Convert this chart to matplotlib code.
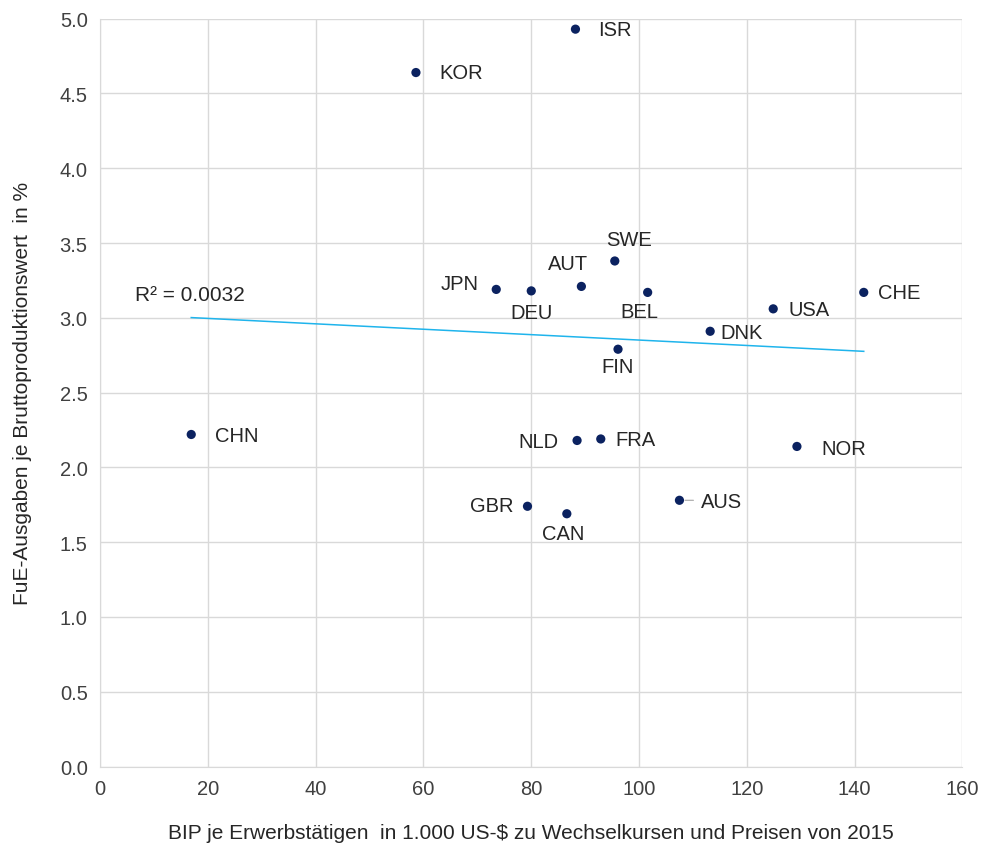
import matplotlib.pyplot as plt
import numpy as np

plt.rcParams['font.family'] = ['Liberation Sans', 'DejaVu Sans']

# data
countries = ['ISR', 'KOR', 'SWE', 'AUT', 'JPN', 'DEU', 'BEL', 'CHE', 'USA',
             'DNK', 'FIN', 'CHN', 'NLD', 'FRA', 'NOR', 'GBR', 'CAN', 'AUS']
bip = [88.2, 58.6, 95.5, 89.3, 73.5, 80.0, 101.6, 141.7, 124.9,
       113.2, 96.1, 16.9, 88.5, 92.9, 129.3, 79.3, 86.6, 107.5]
fue = [4.93, 4.64, 3.38, 3.21, 3.19, 3.18, 3.17, 3.17, 3.06,
       2.91, 2.79, 2.22, 2.18, 2.19, 2.14, 1.74, 1.69, 1.78]

# label offsets in pixels (dx, dy, ha)
offsets = {
    'ISR': (23, 0, 'left'), 'KOR': (23, 0, 'left'), 'SWE': (14, 21, 'center'),
    'AUT': (-13, 23, 'center'), 'JPN': (-18, 6, 'right'), 'DEU': (0, -22, 'center'),
    'BEL': (-8, -19, 'center'), 'CHE': (14, 0, 'left'), 'USA': (15, -1, 'left'),
    'DNK': (10, -1, 'left'), 'FIN': (0, -17, 'center'), 'CHN': (24, -1, 'left'),
    'NLD': (-19, -1, 'right'), 'FRA': (15, -1, 'left'), 'NOR': (24, -2, 'left'),
    'GBR': (-14, 1, 'right'), 'CAN': (-4, -20, 'center'), 'AUS': (22, -1, 'left'),
}

fig = plt.figure(figsize=(9.82, 8.45), dpi=100)
ax = fig.add_axes([0.102, 0.0917, 0.878, 0.885])

x = np.array(bip)
y = np.array(fue)

# linear trend
slope, icpt = np.polyfit(x, y, 1)
xt = np.array([x.min(), x.max()])
ax.plot(xt, slope * xt + icpt, color='#1fb4ec', lw=1.1, zorder=2)

px = 0.72  # pixels -> points at 100 dpi
ax.annotate('R² = 0.0032', (x.min(), slope * x.min() + icpt), xytext=(-56 * px, 23 * px),
            textcoords='offset points', va='center', fontsize=15, color='#262626')

ax.scatter(x, y, s=44, color='#0b2260', zorder=3, edgecolors='none')

for c, xi, yi in zip(countries, x, y):
    dx, dy, ha = offsets[c]
    ax.annotate(c, (xi, yi), xytext=(dx * px, dy * px), textcoords='offset points',
                ha=ha, va='center', fontsize=14.5, color='#262626')
    if c == 'AUS':
        ax.annotate('', (xi, yi), xytext=(14 * px, 0), textcoords='offset points',
                    arrowprops=dict(arrowstyle='-', color='#a6a6a6', lw=0.8,
                                    shrinkA=0, shrinkB=4))

ax.set_xlim(0, 160)
ax.set_ylim(0, 5)
ax.set_xticks(np.arange(0, 161, 20))
ax.set_yticks(np.arange(0, 5.01, 0.5))
ax.set_yticklabels([f'{v:.1f}' for v in np.arange(0, 5.01, 0.5)])
ax.grid(True, color='#d9d9d9', lw=1)
ax.set_axisbelow(True)
for s in ['top', 'right']:
    ax.spines[s].set_visible(False)
for s in ['left', 'bottom']:
    ax.spines[s].set_color('#d9d9d9')
ax.tick_params(length=0, labelsize=14.5, colors='#404040', pad=9)

ax.set_xlabel('BIP je Erwerbstätigen  in 1.000 US-$ zu Wechselkursen und Preisen von 2015',
              fontsize=15, color='#262626', labelpad=18)
ax.set_ylabel('FuE-Ausgaben je Bruttoproduktionswert  in %', fontsize=15,
              color='#262626', labelpad=20)

fig.savefig('out.png', dpi=100)
